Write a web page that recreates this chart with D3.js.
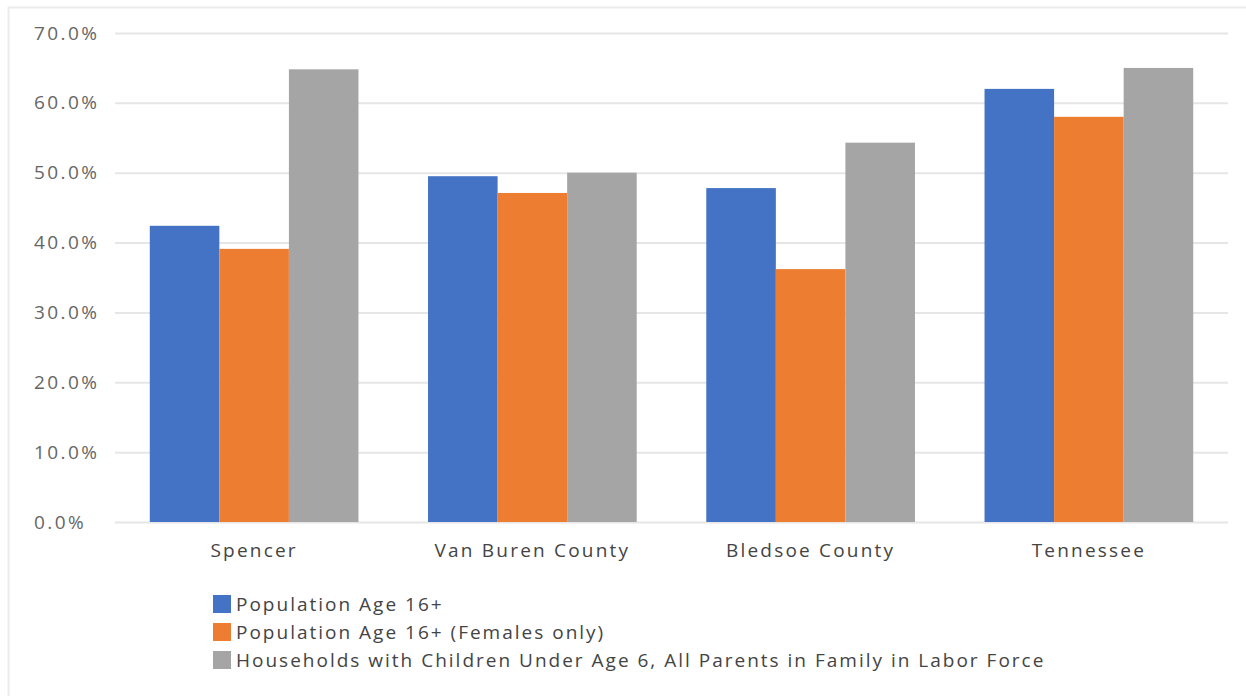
<!DOCTYPE html>
<html>
<head>
<meta charset="utf-8">
<script src="https://cdn.jsdelivr.net/npm/d3@7"></script>
<style>
  html, body { margin: 0; padding: 0; background: #fff; }
  svg { display: block; }
</style>
</head>
<body>
<svg id="chart" width="1246" height="696"></svg>
<script>
const categories = ["Spencer", "Van Buren County", "Bledsoe County", "Tennessee"];
const seriesNames = [
  "Population Age 16+",
  "Population Age 16+ (Females only)",
  "Households with Children Under Age 6, All Parents in Family in Labor Force"
];
const popAll = [0.424, 0.495, 0.478, 0.620];
const popFemale = [0.391, 0.471, 0.362, 0.580];
const households = [0.648, 0.500, 0.543, 0.650];
const seriesValues = [popAll, popFemale, households];
const colors = ["#4472C4", "#ED7D31", "#A5A5A5"];
const yTicks = [0, 0.1, 0.2, 0.3, 0.4, 0.5, 0.6, 0.7];

(function () {
const svg = d3.select("#chart");
const W = 1246, H = 696;
const mLeft = 115, mRight = 1228, mTop = 33, mBottom = 522;
const FONT = "'Open Sans', 'DejaVu Sans', sans-serif";

// outer frame (light border)
svg.append("line").attr("x1", 8).attr("x2", W).attr("y1", 7.5).attr("y2", 7.5)
  .attr("stroke", "#ebebeb").attr("stroke-width", 2);
svg.append("line").attr("x1", 8.5).attr("x2", 8.5).attr("y1", 7).attr("y2", H)
  .attr("stroke", "#ebebeb").attr("stroke-width", 2);

const x0 = d3.scaleBand().domain(categories).range([mLeft, mRight])
  .paddingInner(0.25).paddingOuter(0.125);
const x1 = d3.scaleBand().domain(d3.range(seriesNames.length)).range([0, x0.bandwidth()]);
const y = d3.scaleLinear().domain([0, 0.7]).range([mBottom, mTop]);

// gridlines + y labels
const yAxis = d3.axisLeft(y).tickValues(yTicks).tickFormat(d3.format(".1%"))
  .tickSize(-(mRight - mLeft)).tickPadding(0);
const gy = svg.append("g").attr("transform", `translate(${mLeft},0)`).call(yAxis);
gy.select(".domain").remove();
gy.selectAll(".tick line").attr("stroke", "#e6e6e6").attr("stroke-width", 2);
gy.selectAll(".tick text")
  .attr("x", 34 - mLeft).attr("text-anchor", "start")
  .attr("fill", "#666").attr("font-size", 19).attr("letter-spacing", 2.4)
  .attr("font-family", FONT);

// bars
const groups = svg.append("g").selectAll("g").data(categories).join("g")
  .attr("transform", d => `translate(${x0(d)},0)`);
groups.selectAll("rect")
  .data((c, ci) => seriesValues.map((vals, si) => ({ si, v: vals[ci] })))
  .join("rect")
  .attr("x", d => x1(d.si))
  .attr("width", x1.bandwidth())
  .attr("y", d => y(d.v))
  .attr("height", d => y(0) - y(d.v))
  .attr("fill", d => colors[d.si]);

// x axis labels
const xAxis = d3.axisBottom(x0).tickSize(0).tickPadding(22);
const gx = svg.append("g").attr("transform", `translate(0,${mBottom})`).call(xAxis);
gx.select(".domain").remove();
gx.selectAll(".tick text").attr("fill", "#444").attr("font-size", 19)
  .attr("letter-spacing", 2.2).attr("font-family", FONT);

// legend
const legend = svg.append("g").attr("transform", "translate(213,595)");
const items = legend.selectAll("g").data(seriesNames).join("g")
  .attr("transform", (d, i) => `translate(0,${i * 28})`);
items.append("rect").attr("width", 18).attr("height", 18).attr("y", 0)
  .attr("fill", (d, i) => colors[i]);
items.append("text").attr("x", 23).attr("y", 9).attr("dy", "0.36em")
  .attr("font-size", 19).attr("fill", "#444").attr("letter-spacing", 2.0)
  .attr("font-family", FONT)
  .text(d => d);
})();
</script>
</body>
</html>
